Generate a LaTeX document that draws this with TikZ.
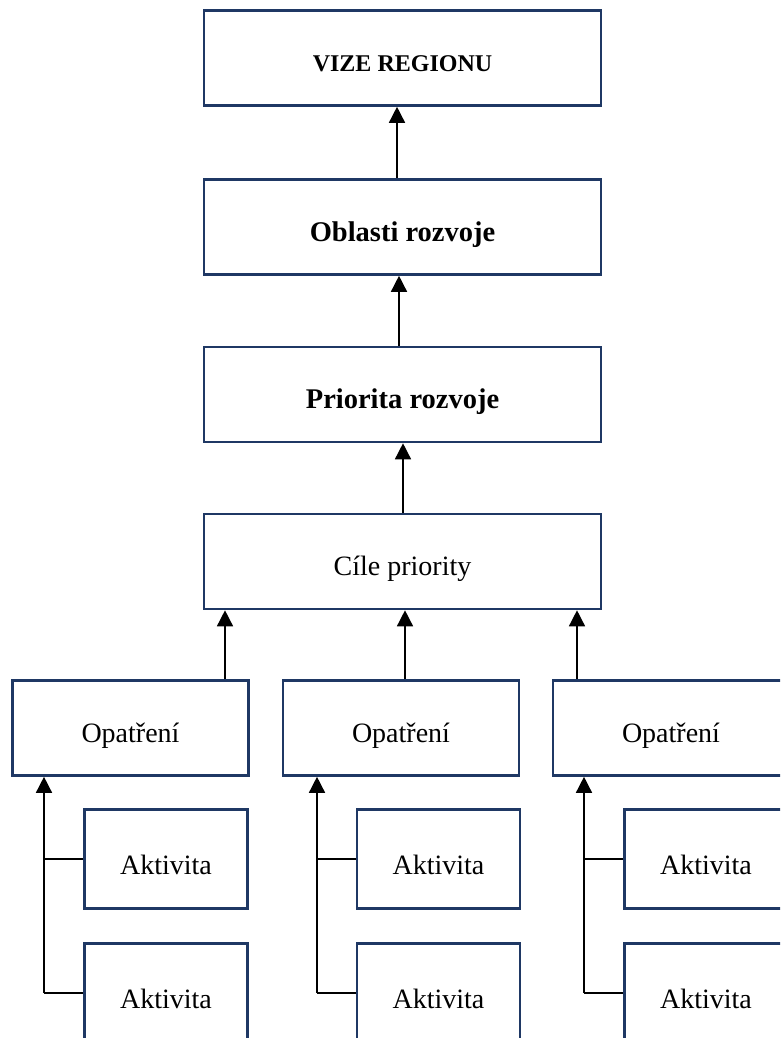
\documentclass[tikz,border=0pt]{standalone}
\usepackage{fontspec}
\setmainfont{Liberation Serif}
\usetikzlibrary{arrows.meta}
\definecolor{boxblue}{RGB}{31,56,100}
\tikzset{
  box/.style={draw=boxblue, line width=2.6pt, rectangle, inner sep=0pt, fill=white,
    font=\fontsize{28}{32}\selectfont, text=black, text height=28pt, text depth=0pt},
  bigbox/.style={box, minimum width=397pt, minimum height=95pt},
  opbox/.style={box, minimum width=236pt, minimum height=95pt},
  akbox/.style={box, minimum width=163pt, minimum height=99pt, text height=30pt},
  arr/.style={draw=black, line width=1.5pt, -{Triangle[width=16pt,length=16pt]}},
  lin/.style={draw=black, line width=1.5pt}
}
\begin{document}
\begin{tikzpicture}[x=1pt,y=-1pt]
\useasboundingbox (0,0) rectangle (780,1038);
\clip (0,0) rectangle (780,1038);
% main column
\node[bigbox, font=\fontsize{24}{30}\selectfont\bfseries] (b1) at (402.5,58) {VIZE REGIONU};
\node[bigbox, font=\fontsize{28.5}{32}\selectfont\bfseries] (b2) at (402.5,227) {Oblasti rozvoje};
\node[bigbox, font=\fontsize{28.5}{32}\selectfont\bfseries] (b3) at (402.5,394.5) {Priorita rozvoje};
\node[bigbox] (b4) at (402.5,561.5) {Cíle priority};
% measures
\node[opbox] (oa) at (130.5,728) {Opatření};
\node[opbox] (ob) at (401,728) {Opatření};
\node[opbox] (oc) at (671,728) {Opatření};
% activities
\node[akbox] (a1) at (166,859) {Aktivita};
\node[akbox] (a2) at (166,993) {Aktivita};
\node[akbox] (c1) at (438.5,859) {Aktivita};
\node[akbox] (c2) at (438.5,993) {Aktivita};
\node[akbox] (e1) at (706,859) {Aktivita};
\node[akbox] (e2) at (706,993) {Aktivita};
% helper coordinates
\coordinate (x21) at (397,0);
\coordinate (x32) at (399,0);
\coordinate (x43) at (403,0);
\coordinate (xa) at (225,0);
\coordinate (xb) at (405,0);
\coordinate (xc) at (577,0);
\coordinate (la) at (44,0);
\coordinate (lb) at (317,0);
\coordinate (lc) at (584,0);
% main arrows
\draw[arr] (b2.north -| x21) -- (b1.south -| x21);
\draw[arr] (b3.north -| x32) -- (b2.south -| x32);
\draw[arr] (b4.north -| x43) -- (b3.south -| x43);
\draw[arr] (oa.north -| xa) -- (b4.south -| xa);
\draw[arr] (ob.north -| xb) -- (b4.south -| xb);
\draw[arr] (oc.north -| xc) -- (b4.south -| xc);
% activity connectors
\draw[arr] (a2.west -| la) -- (oa.south -| la);
\draw[lin] (a1.west) -- (a1.west -| la);
\draw[lin] (a2.west) -- (a2.west -| la);
\draw[arr] (c2.west -| lb) -- (ob.south -| lb);
\draw[lin] (c1.west) -- (c1.west -| lb);
\draw[lin] (c2.west) -- (c2.west -| lb);
\draw[arr] (e2.west -| lc) -- (oc.south -| lc);
\draw[lin] (e1.west) -- (e1.west -| lc);
\draw[lin] (e2.west) -- (e2.west -| lc);
\end{tikzpicture}
\end{document}
